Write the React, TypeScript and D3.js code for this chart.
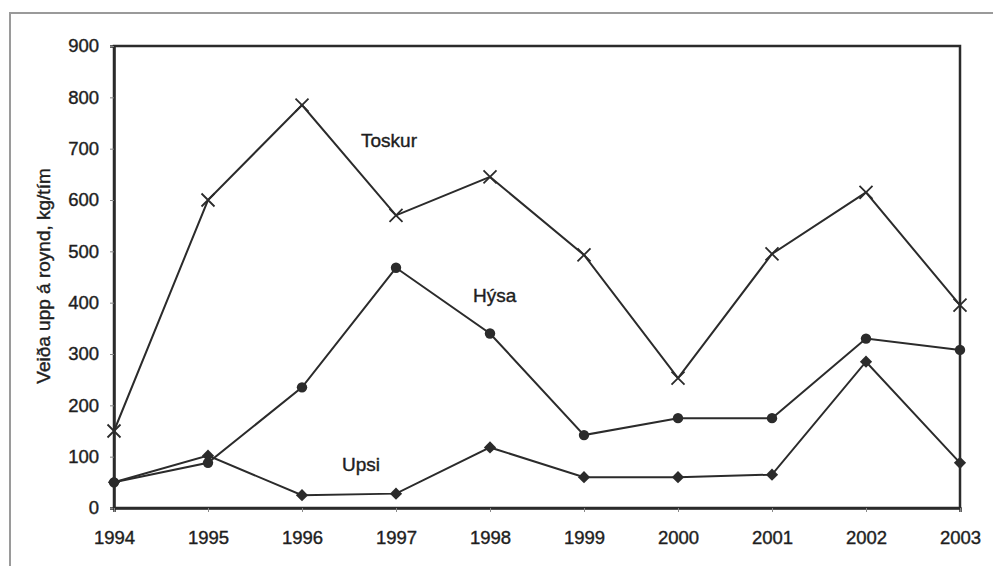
import React, { useRef, useEffect } from 'react';
import * as d3 from 'd3';

const years = [1994, 1995, 1996, 1997, 1998, 1999, 2000, 2001, 2002, 2003];
const toskur = [150, 600, 785, 570, 645, 493, 253, 495, 615, 395];
const hysa = [50, 88, 235, 468, 340, 142, 175, 175, 330, 308];
const upsi = [50, 102, 25, 28, 118, 60, 60, 65, 285, 88];
const yTicks = [0, 100, 200, 300, 400, 500, 600, 700, 800, 900];
const seriesNames = ['Toskur', 'Hýsa', 'Upsi'];

const W = 993, H = 566;
const margin = { left: 114, top: 46, right: 33, bottom: 58 };
const ink = '#2b2b2b';
const textInk = '#1e1e1e';
const font = "'Liberation Sans', Arial, sans-serif";

const App = () => {
  const svgRef = useRef<SVGSVGElement>(null);

  useEffect(() => {
    const svg = d3.select(svgRef.current);
    svg.selectAll('*').remove();

    const x = d3.scalePoint<number>()
      .domain(years)
      .range([margin.left, W - margin.right]);
    const y = d3.scaleLinear()
      .domain([0, 900])
      .range([H - margin.bottom, margin.top]);

    // frame of the scanned page
    svg.append('path')
      .attr('d', `M10,${H} L10,13 L${W},13`)
      .attr('fill', 'none')
      .attr('stroke', '#9a9a9a')
      .attr('stroke-width', 2);

    // plot box
    svg.append('rect')
      .attr('x', margin.left)
      .attr('y', margin.top)
      .attr('width', W - margin.right - margin.left)
      .attr('height', H - margin.bottom - margin.top)
      .attr('fill', 'none')
      .attr('stroke', ink)
      .attr('stroke-width', 2.5);

    const yAxis = svg.append('g')
      .attr('transform', `translate(${margin.left},0)`)
      .call(d3.axisLeft(y).tickValues(yTicks).tickSize(4).tickPadding(11));
    const xAxis = svg.append('g')
      .attr('transform', `translate(0,${H - margin.bottom})`)
      .call(d3.axisBottom(x).tickSize(4).tickPadding(19).tickFormat(d => String(d)));

    [yAxis, xAxis].forEach(a => {
      a.select('.domain').attr('stroke', ink).attr('stroke-width', 2.5);
      a.selectAll('.tick line').attr('stroke', '#888').attr('stroke-width', 1);
      a.selectAll('.tick text')
        .attr('fill', textInk)
        .attr('stroke', textInk)
        .attr('stroke-width', 0.4)
        .attr('font-family', font)
        .attr('font-size', '18.5px');
    });

    svg.append('text')
      .attr('transform', `translate(50,276) rotate(-90)`)
      .attr('text-anchor', 'middle')
      .attr('fill', textInk)
      .attr('stroke', textInk)
      .attr('stroke-width', 0.4)
      .attr('font-family', font)
      .attr('font-size', '19px')
      .text('Veiða upp á roynd, kg/tím');

    const line = d3.line<number>()
      .x((d, i) => x(years[i]) as number)
      .y(d => y(d));

    [toskur, hysa, upsi].forEach(s => {
      svg.append('path')
        .attr('d', line(s))
        .attr('fill', 'none')
        .attr('stroke', ink)
        .attr('stroke-width', 2);
    });

    // Toskur: crosses
    toskur.forEach((v, i) => {
      const cx = x(years[i]) as number, cy = y(v), r = 6.5;
      svg.append('path')
        .attr('d', `M${cx - r},${cy - r}L${cx + r},${cy + r}M${cx - r},${cy + r}L${cx + r},${cy - r}`)
        .attr('stroke', ink)
        .attr('stroke-width', 1.8);
    });
    // Hýsa: dots
    svg.append('g').selectAll('circle')
      .data(hysa)
      .join('circle')
      .attr('cx', (d, i) => x(years[i]) as number)
      .attr('cy', d => y(d))
      .attr('r', 5.2)
      .attr('fill', ink);
    // Upsi: diamonds
    svg.append('g').selectAll('path')
      .data(upsi)
      .join('path')
      .attr('d', d3.symbol(d3.symbolDiamond2, 95)())
      .attr('transform', (d, i) => `translate(${x(years[i])},${y(d)})`)
      .attr('fill', ink);

    // series labels placed inside the plot
    const labelPos = [[361, 147], [473, 302], [342, 471]];
    seriesNames.forEach((n, i) => {
      svg.append('text')
        .attr('x', labelPos[i][0])
        .attr('y', labelPos[i][1])
        .attr('fill', textInk)
        .attr('stroke', textInk)
        .attr('stroke-width', 0.4)
        .attr('font-family', font)
        .attr('font-size', '19px')
        .text(n);
    });
  }, []);

  return (
    <svg ref={svgRef} width={W} height={H}
      style={{ position: 'absolute', left: 0, top: 0, background: '#fff' }} />
  );
};

export default App;
